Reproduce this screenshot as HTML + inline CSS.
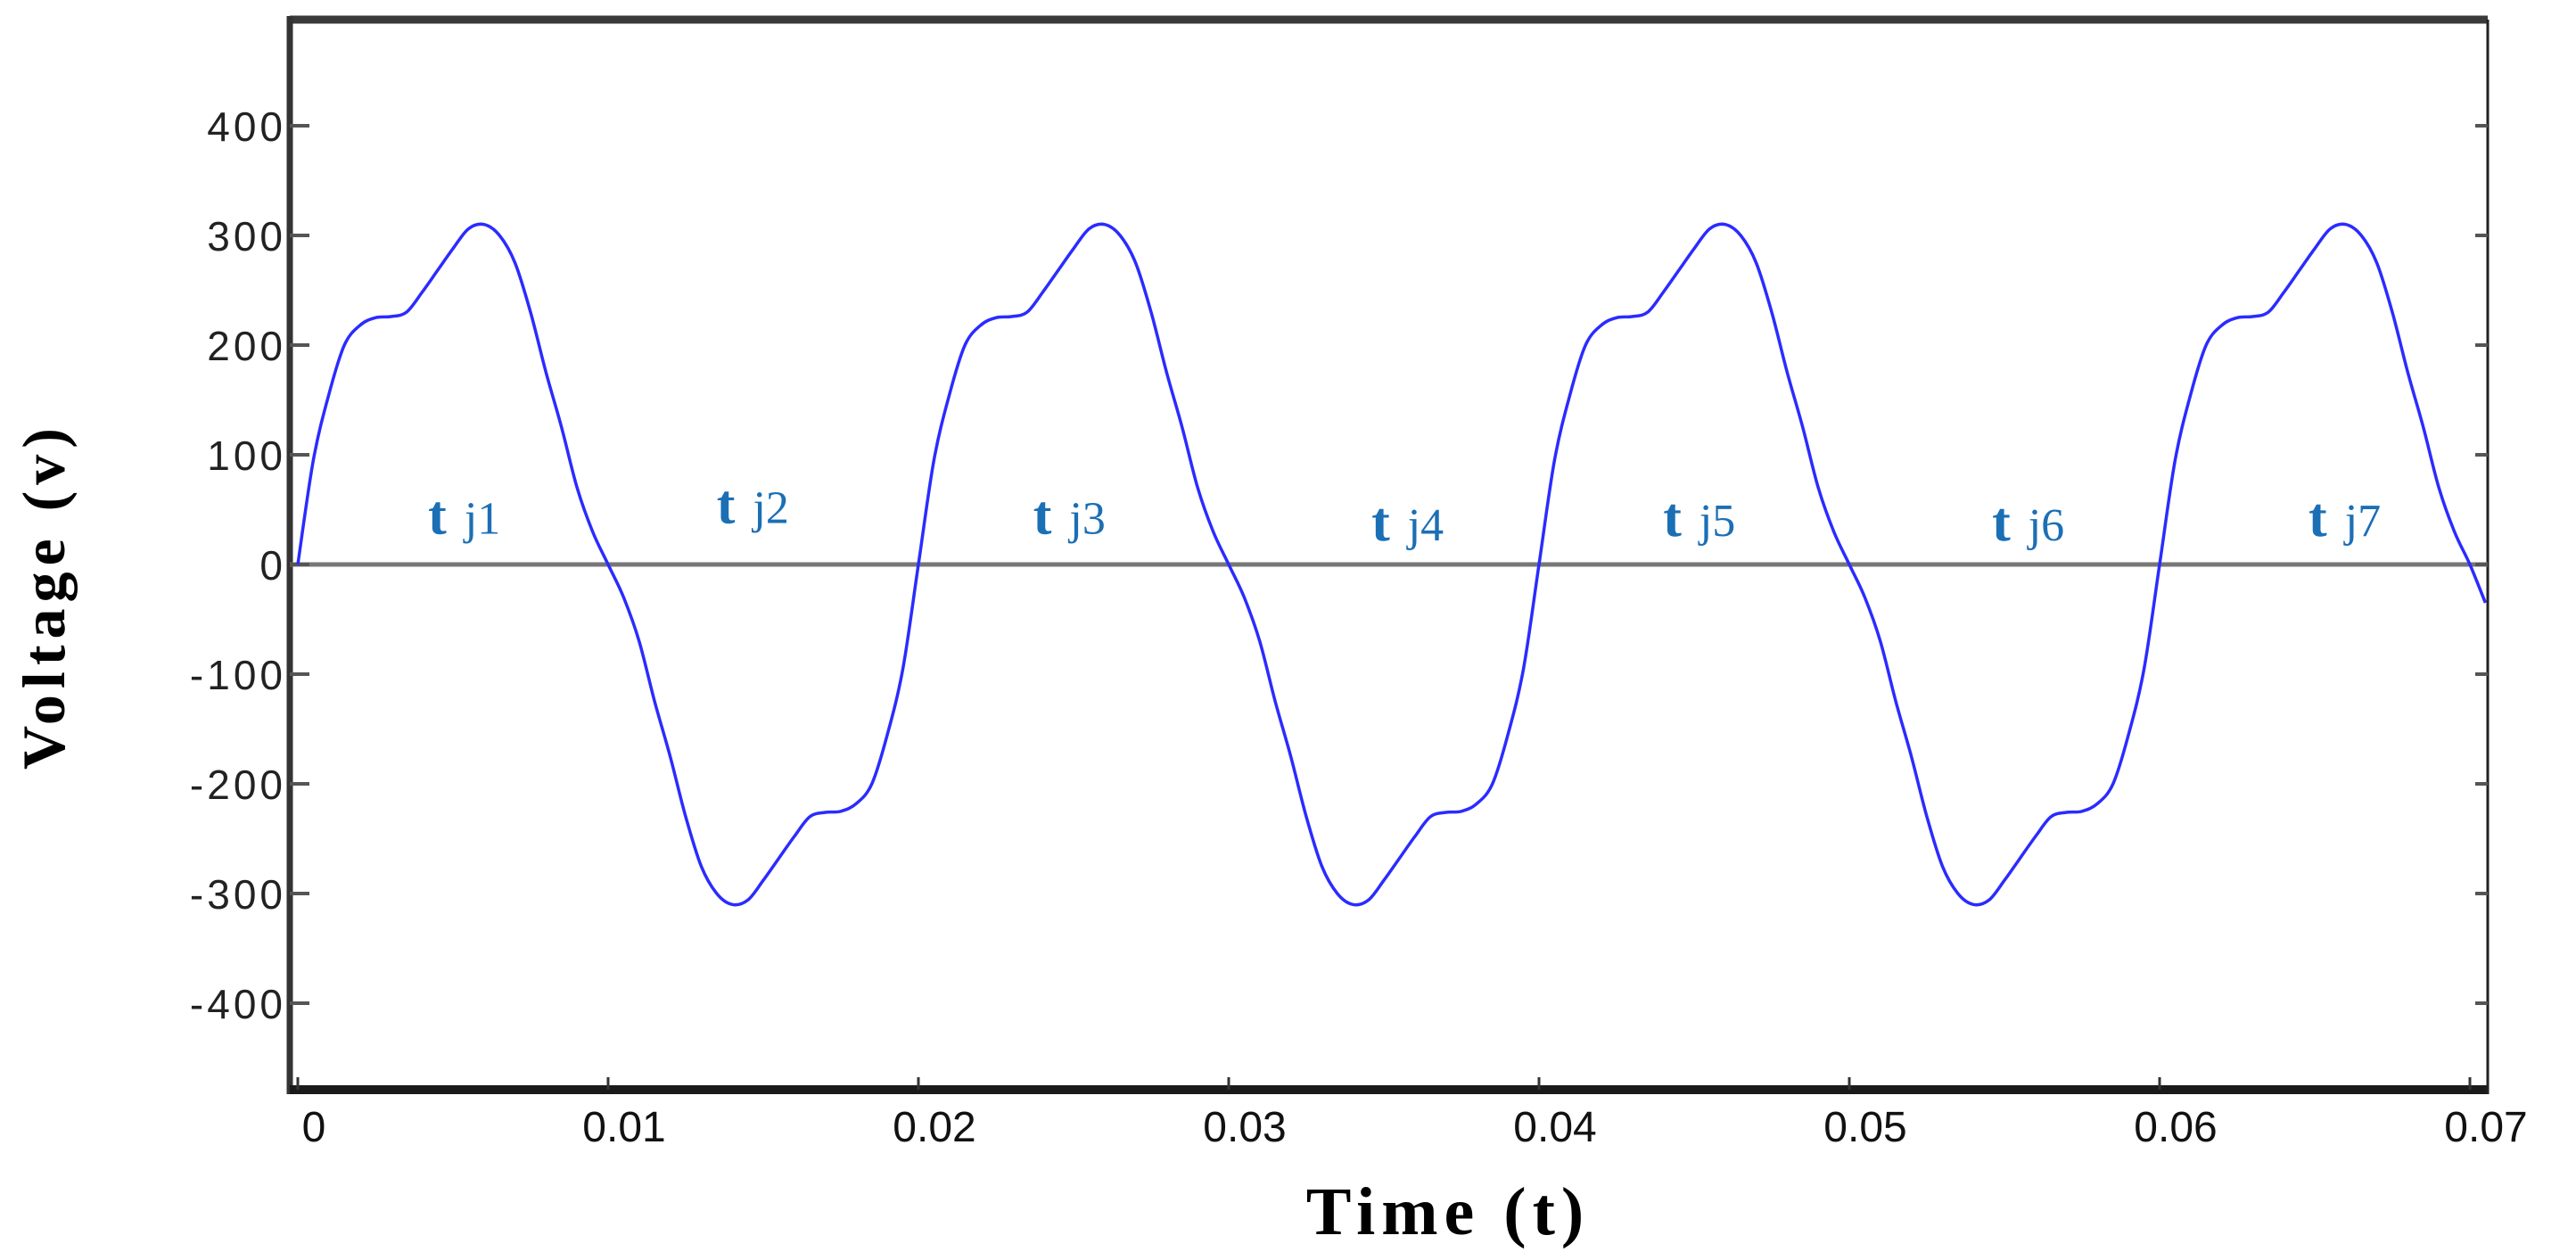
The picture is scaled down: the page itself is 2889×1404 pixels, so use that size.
<!DOCTYPE html>
<html><head><meta charset="utf-8"><style>
html,body{margin:0;padding:0;background:#fff;}
svg{display:block;}
</style></head><body>
<svg id="chart" width="2889" height="1404" viewBox="0 0 2889 1404" xmlns="http://www.w3.org/2000/svg">
<rect width="2889" height="1404" fill="#fff"/>
<g id="frame"></g>
<g id="ticks"></g>
<g id="series"></g>
<g id="labels"></g>
<text x="1624" y="1384" text-anchor="middle" font-family="Liberation Serif, serif" font-weight="bold" font-size="76" letter-spacing="7">Time (t)</text>
<text transform="translate(72,668) rotate(-90)" text-anchor="middle" font-family="Liberation Serif, serif" font-weight="bold" font-size="68" letter-spacing="7">Voltage (v)</text>
</svg>
<script>
const xTicks = [0, 0.01, 0.02, 0.03, 0.04, 0.05, 0.06, 0.07];
const xTickLabels = ["0", "0.01", "0.02", "0.03", "0.04", "0.05", "0.06", "0.07"];
const yTicks = [400, 300, 200, 100, 0, -100, -200, -300, -400];
const yTickLabels = ["400", "300", "200", "100", "0", "-100", "-200", "-300", "-400"];
const timeMs = [0,0.5,1,1.5,2,2.5,3,3.5,4,4.5,5,5.5,6,6.5,7,7.5,8,8.5,9,9.5,10,
10.5,11,11.5,12,12.5,13,13.5,14,14.5,15,15.5,16,16.5,17,17.5,18,18.5,19,19.5,20,
20.5,21,21.5,22,22.5,23,23.5,24,24.5,25,25.5,26,26.5,27,27.5,28,28.5,29,29.5,30,
30.5,31,31.5,32,32.5,33,33.5,34,34.5,35,35.5,36,36.5,37,37.5,38,38.5,39,39.5,40,
40.5,41,41.5,42,42.5,43,43.5,44,44.5,45,45.5,46,46.5,47,47.5,48,48.5,49,49.5,50,
50.5,51,51.5,52,52.5,53,53.5,54,54.5,55,55.5,56,56.5,57,57.5,58,58.5,59,59.5,60,
60.5,61,61.5,62,62.5,63,63.5,64,64.5,65,65.5,66,66.5,67,67.5,68,68.5,69,69.5,70,70.5];
const voltage = [0,95,155,200,218,225,226,230,248,268,288,306,310,300,275,230,175,125,70,30,0,
-30,-70,-125,-175,-230,-275,-300,-310,-306,-288,-268,-248,-230,-226,-225,-218,-200,-155,-95,0,
95,155,200,218,225,226,230,248,268,288,306,310,300,275,230,175,125,70,30,0,
-30,-70,-125,-175,-230,-275,-300,-310,-306,-288,-268,-248,-230,-226,-225,-218,-200,-155,-95,0,
95,155,200,218,225,226,230,248,268,288,306,310,300,275,230,175,125,70,30,0,
-30,-70,-125,-175,-230,-275,-300,-310,-306,-288,-268,-248,-230,-226,-225,-218,-200,-155,-95,0,
95,155,200,218,225,226,230,248,268,288,306,310,300,275,230,175,125,70,30,0,-35];
const tjLabels = ["1","2","3","4","5","6","7"];
const tjTimes = [0.0042, 0.0135, 0.0237, 0.0346, 0.0440, 0.0546, 0.0648];
const tjValues = [28, 38, 28, 22, 26, 22, 26];

const NS = "http://www.w3.org/2000/svg";
const L = 325, R = 2790, T = 22, B = 1222;
function X(t){ return 334 + t * 34800; }
function Y(v){ return 633 - v * 1.23; }
function mk(tag, attrs, parent){
  const e = document.createElementNS(NS, tag);
  for (const k in attrs) e.setAttribute(k, attrs[k]);
  parent.appendChild(e); return e;
}
const frame = document.getElementById('frame');
const ticks = document.getElementById('ticks');
const series = document.getElementById('series');
const labels = document.getElementById('labels');

let e;
e = mk('line', {x1:L, y1:T, x2:R, y2:T, stroke:'#3a3a3a', 'stroke-width':9}, frame);


e = mk('line', {x1:L, y1:T-4, x2:L, y2:B+5, stroke:'#333', 'stroke-width':7}, frame);


e = mk('line', {x1:L, y1:B, x2:R, y2:B, stroke:'#1a1a1a', 'stroke-width':10}, frame);


e = mk('line', {x1:R, y1:T, x2:R, y2:B+5, stroke:'#222', 'stroke-width':3}, frame);


e = mk('line', {x1:L, y1:Y(0), x2:R, y2:Y(0), stroke:'#777', 'stroke-width':5}, frame);



yTicks.forEach((v, i) => {
  const y = Y(v);
  let t1 = mk('line', {x1:L, y1:y, x2:L+22, y2:y, stroke:'#555', 'stroke-width':4}, ticks);
  
  
  let t2 = mk('line', {x1:R-14, y1:y, x2:R, y2:y, stroke:'#555', 'stroke-width':4}, ticks);
  
  
  let tx = mk('text', {x:L-4, y:y+17, 'text-anchor':'end', 'font-family':'Liberation Sans, sans-serif', 'font-size':46, 'letter-spacing':4, fill:'#222'}, ticks);
  tx.textContent = yTickLabels[i];
  
  
});
xTicks.forEach((t, i) => {
  const x = X(t);
  let t1 = mk('line', {x1:x, y1:B-14, x2:x, y2:B, stroke:'#333', 'stroke-width':3}, ticks);
  
  
  let tx = mk('text', {x:x+18, y:1280, 'text-anchor':'middle', 'font-family':'Liberation Sans, sans-serif', 'font-size':48, fill:'#111'}, ticks);
  tx.textContent = xTickLabels[i];
  
  
});

const P = timeMs.map((t, i) => [X(t/1000), Y(voltage[i])]);
let d = 'M' + P[0][0].toFixed(1) + ',' + P[0][1].toFixed(1);
for (let i = 0; i < P.length - 1; i++) {
  const p0 = P[Math.max(0, i-1)], p1 = P[i], p2 = P[i+1], p3 = P[Math.min(P.length-1, i+2)];
  const c1x = p1[0] + (p2[0]-p0[0])/6, c1y = p1[1] + (p2[1]-p0[1])/6;
  const c2x = p2[0] - (p3[0]-p1[0])/6, c2y = p2[1] - (p3[1]-p1[1])/6;
  d += ' C' + c1x.toFixed(1) + ',' + c1y.toFixed(1) + ' ' + c2x.toFixed(1) + ',' + c2y.toFixed(1) + ' ' + p2[0].toFixed(1) + ',' + p2[1].toFixed(1);
}
e = mk('path', {d:d, fill:'none', stroke:'#2b2bff', 'stroke-width':3.5, 'stroke-linejoin':'round'}, series);



tjLabels.forEach((s, i) => {
  const g = mk('text', {x:X(tjTimes[i]), y:Y(tjValues[i]), 'font-family':'Liberation Serif, serif', 'font-size':54, fill:'#1b6fb5'}, labels);
  
  
  const a = mk('tspan', {'font-weight':'bold', 'font-size':62}, g); a.textContent = 't';
  const b = mk('tspan', {dx:20, 'font-size':52}, g); b.textContent = 'j' + s;
});
</script>
</body></html>
